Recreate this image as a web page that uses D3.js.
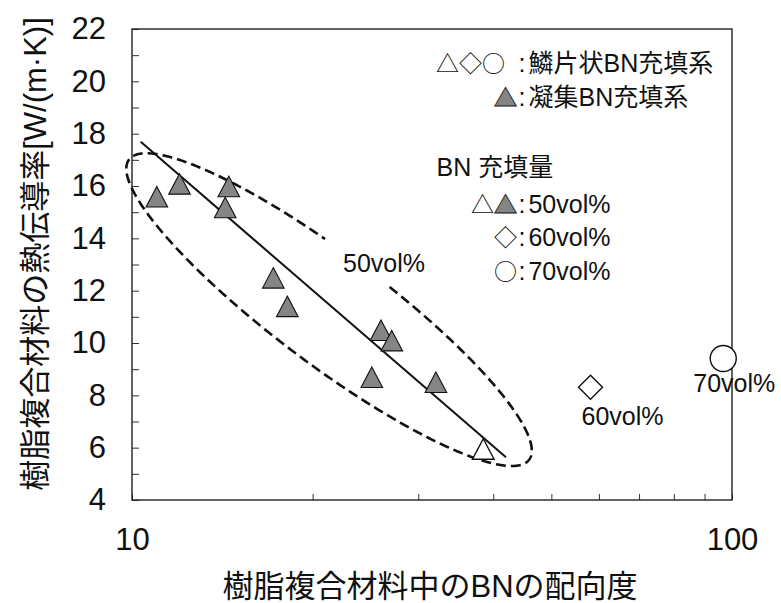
<!DOCTYPE html>
<html><head><meta charset="utf-8">
<script src="https://cdn.jsdelivr.net/npm/d3@7"></script>
<style>body{margin:0;background:#fff} svg{display:block}</style>
</head><body><div id="chart"></div>
<script>
// ---- data ----
const xTickValues = [10, 20, 30, 40, 50, 60, 70, 80, 90, 100];
const xTickLabels = [10, 100];
const yTickValues = [4,5,6,7,8,9,10,11,12,13,14,15,16,17,18,19,20,21,22];
const yTickLabels = [4, 6, 8, 10, 12, 14, 16, 18, 20, 22];
const aggOrientation  = [11.0, 12.0, 14.5, 14.3, 17.2, 18.15, 26.0, 27.1, 25.1, 32.1];
const aggConductivity = [15.58, 16.07, 15.97, 15.17, 12.48, 11.39, 10.48, 10.08, 8.68, 8.49];
const flakeOrientation  = [38.5, 58.1, 96.7];
const flakeConductivity = [5.94, 8.31, 9.41];
const flakeShapes = ["triangle", "diamond", "circle"];
const flakeLabels = ["", "60vol%", "70vol%"];
const trendOrientation  = [10.34, 42.0];
const trendConductivity = [17.69, 5.63];
const ellipseOrientation  = [9.886, 45.9];   // major-axis end points
const ellipseConductivity = [17.01, 5.54];
const ellipseLabel = "50vol%";
const xTitle = "樹脂複合材料中のBNの配向度";
const yTitle = "樹脂複合材料の熱伝導率[W/(m·K)]";

// ---- layout ----
const W = 781, H = 603;
const m = {left: 132, top: 29, right: 49, bottom: 103};
const LAT = "'Liberation Sans', Arial, 'Noto Sans CJK JP', sans-serif";
const CJK = "'Noto Sans CJK JP', 'Liberation Sans', sans-serif";

const svg = d3.select("#chart").append("svg").attr("width", W).attr("height", H);
const x = d3.scaleLog().domain([10, 100]).range([m.left, W - m.right]);
const y = d3.scaleLinear().domain([4, 22]).range([H - m.bottom, m.top]);

// axes
const gx = svg.append("g").attr("transform", `translate(0,${H - m.bottom})`)
  .call(d3.axisBottom(x).tickValues(xTickValues).tickSize(-6).tickPadding(28)
    .tickFormat(d => xTickLabels.includes(d) ? d : ""));
const gy = svg.append("g").attr("transform", `translate(${m.left},0)`)
  .call(d3.axisLeft(y).tickValues(yTickValues).tickSize(-7).tickPadding(26)
    .tickFormat(d => yTickLabels.includes(d) ? d : ""));
[gx, gy].forEach(g => {
  g.select(".domain").remove();
  g.selectAll(".tick line").attr("stroke", "#333").attr("stroke-width", 1);
  g.selectAll(".tick text").attr("font-family", LAT).attr("font-size", 31).attr("fill", "#111");
});

// frame
svg.append("rect").attr("x", m.left).attr("y", m.top)
  .attr("width", W - m.left - m.right).attr("height", H - m.top - m.bottom)
  .attr("fill", "none").attr("stroke", "#222").attr("stroke-width", 1.4);

// ellipse (dashed, with a gap for the label)
const p1 = [x(ellipseOrientation[0]), y(ellipseConductivity[0])];
const p2 = [x(ellipseOrientation[1]), y(ellipseConductivity[1])];
const cx = (p1[0] + p2[0]) / 2, cy = (p1[1] + p2[1]) / 2;
const a = Math.hypot(p2[0] - p1[0], p2[1] - p1[1]) / 2;
const th = Math.atan2(p2[1] - p1[1], p2[0] - p1[0]);
const b = 55;
const ux = Math.cos(th), uy = Math.sin(th), nx = -Math.sin(th), ny = Math.cos(th);
const t0 = -82, t1 = 259.5;
const pts = d3.range(t0, t1 + 0.01, 0.5).map(deg => {
  const t = deg * Math.PI / 180;
  return [cx + a * Math.cos(t) * ux + b * Math.sin(t) * nx,
          cy + a * Math.cos(t) * uy + b * Math.sin(t) * ny];
});
svg.append("path").attr("d", d3.line()(pts)).attr("fill", "none")
  .attr("stroke", "#111").attr("stroke-width", 2.6).attr("stroke-dasharray", "10,5");
svg.append("text").attr("x", cx + 14).attr("y", cy - 37.5)
  .attr("font-family", LAT).attr("font-size", 25).attr("fill", "#111").text(ellipseLabel);

// trend line
svg.append("path")
  .attr("d", d3.line()(trendOrientation.map((v, i) => [x(v), y(trendConductivity[i])])))
  .attr("stroke", "#111").attr("stroke-width", 2).attr("fill", "none");

// markers
const tri = "M0,-10.5L10.8,10L-10.8,10Z";
svg.append("g").selectAll("path").data(aggOrientation).join("path")
  .attr("transform", (d, i) => `translate(${x(d)},${y(aggConductivity[i])})`)
  .attr("d", tri).attr("fill", "#858585").attr("stroke", "#111").attr("stroke-width", 1.1);

const shapePath = {
  triangle: tri,
  diamond: "M0,-12L12,0L0,12L-12,0Z",
  circle: d3.arc()({innerRadius: 0, outerRadius: 13, startAngle: 0, endAngle: 2 * Math.PI})
};
svg.append("g").selectAll("path").data(flakeOrientation).join("path")
  .attr("transform", (d, i) => `translate(${x(d)},${y(flakeConductivity[i])})`)
  .attr("d", (d, i) => shapePath[flakeShapes[i]])
  .attr("fill", "#fff").attr("stroke", "#111").attr("stroke-width", 1.4);

const labelOffset = {diamond: [-9, 38], circle: [-30, 33.7]};
flakeOrientation.forEach((d, i) => {
  if (!flakeLabels[i]) return;
  const off = labelOffset[flakeShapes[i]];
  svg.append("text").attr("x", x(d) + off[0]).attr("y", y(flakeConductivity[i]) + off[1])
    .attr("font-family", LAT).attr("font-size", 25).attr("fill", "#111").text(flakeLabels[i]);
});

// legend
const legend = [
  {y: 71.5, sx: 436, syms: [["△◇○", false]], rest: "鱗片状BN充填系"},
  {y: 105.5, sx: 494, syms: [["▲", true]], rest: "凝集BN充填系"},
  {y: 212.5, sx: 471, syms: [["△", false], ["▲", true]], rest: "50vol%"},
  {y: 246, sx: 494, syms: [["◇", false]], rest: "60vol%"},
  {y: 279.5, sx: 494, syms: [["○", false]], rest: "70vol%"}
];
legend.forEach(L => {
  const t = svg.append("text").attr("y", L.y).attr("font-size", 25).attr("fill", "#111");
  let first = true;
  L.syms.forEach(([s, filled]) => {
    const ts = t.append("tspan").attr("font-family", CJK).attr("font-size", 23).text(s);
    if (first) { ts.attr("x", L.sx); first = false; }
    if (filled) ts.attr("fill", "#858585").attr("stroke", "#111").attr("stroke-width", 0.8);
  });
  t.append("tspan").attr("x", 518.5).attr("font-family", LAT).text(":");
  t.append("tspan").attr("font-family", LAT).attr("dx", 3).text(L.rest);
});
svg.append("text").attr("x", 436.5).attr("y", 176).attr("font-family", LAT)
  .attr("font-size", 25).attr("fill", "#111").text("BN 充填量");

// axis titles
svg.append("text").attr("x", 430).attr("y", 597).attr("text-anchor", "middle")
  .attr("font-family", LAT).attr("font-size", 31).attr("fill", "#111").text(xTitle);
svg.append("text").attr("transform", "translate(46,254) rotate(-90)").attr("text-anchor", "middle")
  .attr("font-family", LAT).attr("font-size", 31).attr("fill", "#111").text(yTitle);
</script></body></html>
